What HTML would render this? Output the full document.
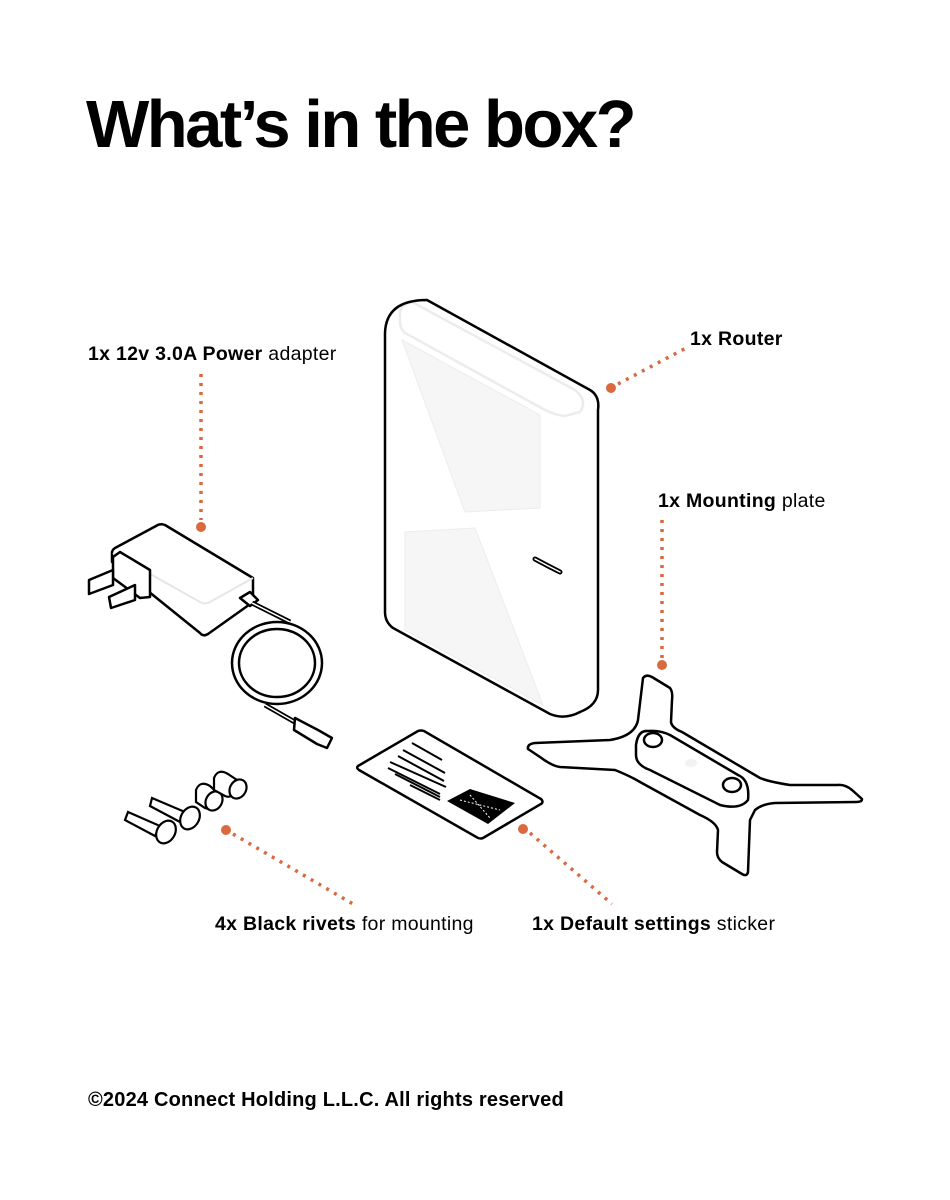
<!DOCTYPE html>
<html><head><meta charset="utf-8"><style>
html,body{margin:0;padding:0;background:#fff;}
svg{display:block}
text{font-family:"Liberation Sans",sans-serif;fill:#000}
</style></head><body>
<svg width="950" height="1200" viewBox="0 0 950 1200" xmlns="http://www.w3.org/2000/svg">
<text x="86" y="147" font-size="67" font-weight="bold" letter-spacing="-2.5">What’s in the box?</text>

<!-- labels -->
<g font-size="19.5" letter-spacing="0.3">
<text x="88" y="360"><tspan font-weight="bold">1x 12v 3.0A Power</tspan> adapter</text>
<text x="690" y="345" font-weight="bold">1x Router</text>
<text x="658" y="507"><tspan font-weight="bold">1x Mounting</tspan> plate</text>
<text x="215" y="930"><tspan font-weight="bold">4x Black rivets</tspan> for mounting</text>
<text x="532" y="930"><tspan font-weight="bold">1x Default settings</tspan> sticker</text>
</g>
<text x="88" y="1106" font-size="20" font-weight="bold" letter-spacing="0.2">©2024 Connect Holding L.L.C. All rights reserved</text>

<!-- orange leaders -->
<g stroke="#d9693f" stroke-width="3.5" stroke-dasharray="3 6" fill="none">
<line x1="201" y1="374" x2="201" y2="520"/>
<line x1="618" y1="384" x2="686" y2="348"/>
<line x1="662" y1="520" x2="662" y2="658"/>
<line x1="233" y1="834" x2="353" y2="904"/>
<line x1="530" y1="833" x2="612" y2="904"/>
</g>
<g fill="#d9693f">
<circle cx="201" cy="527" r="5"/><circle cx="611" cy="388" r="5"/>
<circle cx="662" cy="665" r="5"/><circle cx="226" cy="830" r="5"/><circle cx="523" cy="829" r="5"/>
</g>

<!-- router -->
<g fill="none" stroke="#ececec" stroke-width="1.5">
<path d="M400 318 Q398 305 412 302 L575 390 Q588 400 580 412 L565 416 Q555 415 545 410 L405 333 Q399 328 400 318Z" stroke-width="2.5"/>
</g>
<g stroke="#ececec" stroke-width="1">
<path d="M402 340 L540 415 L540 508 L465 512Z M405 532 L475 528 L543 705 L405 630Z" fill="#f6f6f6"/>
</g>
<path d="M385 333 Q386 300 427 300 L590 390 Q600 396 598 410 L598 690 Q598 705 580 712 Q565 720 550 714 L393 628 Q385 622 385 612 Z" fill="none" stroke="#000" stroke-width="2.5"/>
<path d="M535 559 Q548 566 560 572" stroke="#000" stroke-width="5" stroke-linecap="round" fill="none"/>
<path d="M535 559 Q548 566 560 572" stroke="#fff" stroke-width="1.5" stroke-linecap="round" fill="none"/>

<!-- power adapter -->
<g fill="#fff" stroke="#000" stroke-width="2.5" stroke-linejoin="round">
<path d="M112 553 L112 562 L200 633 Q203 637 208 634 L253 602 L253 578 L165 525 Q160 523 156 526 L115 548 Q112 550 112 553Z"/>
<path d="M113 553 L200 602 Q205 605 210 602 L253 578" fill="none" stroke="#e6e6e6" stroke-width="2"/>
<path d="M113 557 L120 552 L150 570 L150 597 L140 598 L113 578Z"/>
<path d="M89 580 L113 570 L113 585 L89 594Z"/>
<path d="M109 597 L135 585 L135 600 L111 608Z"/>
<path d="M240 598 L250 592 L258 600 L250 606 Z"/>
<path d="M252 603 L290 622" stroke-width="5"/>
<path d="M252 603 L290 622" stroke="#fff" stroke-width="1.5"/>
<ellipse cx="277" cy="663" rx="45" ry="41" fill="none" stroke-width="2.5"/>
<ellipse cx="277" cy="663" rx="38" ry="34" fill="none" stroke-width="2.5"/>
<path d="M265 705 L300 725" fill="none" stroke-width="5"/>
<path d="M265 705 L300 725" fill="none" stroke="#fff" stroke-width="1.5"/>
<path d="M295 718 L318 730 L332 738 L327 748 L317 744 L294 730Z"/>
</g>

<!-- rivets -->
<g fill="#fff" stroke="#000" stroke-width="2.2">
<path d="M128 812 L160 826 L155 836 L125 820Z"/>
<ellipse cx="166" cy="832" rx="9" ry="12" transform="rotate(30 166 832)"/>
<path d="M152 798 L185 812 L180 822 L150 806Z"/>
<ellipse cx="190" cy="818" rx="9" ry="12" transform="rotate(30 190 818)"/>
<path d="M196 790 Q200 780 210 786 L220 795 Q214 812 205 808 L196 802Z"/>
<ellipse cx="214" cy="801" rx="8" ry="10" transform="rotate(30 214 801)"/>
<path d="M214 778 Q218 768 228 774 L240 782 Q234 800 225 796 L214 790Z"/>
<ellipse cx="238" cy="789" rx="8" ry="10" transform="rotate(30 238 789)"/>
</g>

<!-- sticker -->
<path d="M358 766 L418 731 Q421 730 424 731 L541 799 Q544 802 541 804 L483 838 Q481 839 478 838 L359 770 Q356 768 358 766Z" fill="#fff" stroke="#000" stroke-width="2.5"/>
<g stroke="#000" stroke-width="2">
<line x1="412" y1="743" x2="442" y2="760"/>
<line x1="403" y1="750" x2="445" y2="773"/>
<line x1="398" y1="756" x2="444" y2="781"/>
<line x1="390" y1="762" x2="446" y2="787"/>
<line x1="388" y1="768" x2="440" y2="794"/>
<line x1="395" y1="774" x2="440" y2="797"/>
<line x1="410" y1="785" x2="440" y2="800"/>
</g>
<path d="M447 801 L470 789 L515 803 L488 824Z" fill="#000"/>
<g stroke="#fff" stroke-width="1" stroke-dasharray="2 2"><line x1="460" y1="800" x2="500" y2="810"/><line x1="470" y1="795" x2="490" y2="818"/></g>

<!-- plate -->
<path d="M643 678 Q646 674 652 677 L670 688 Q673 692 672 700 L671 722 Q672 728 682 732 L760 778 Q770 782 790 785 L837 785 Q845 784 852 790 L862 799 Q862 802 856 802 L775 803 Q762 804 755 810 L750 820 L748 872 Q747 877 742 874 L722 862 Q717 858 717 852 L718 830 Q716 822 700 815 L640 782 Q630 776 615 770 L560 767 Q552 766 540 757 L528 749 Q527 744 535 743 L610 740 Q635 736 638 720 Z" fill="#fff" stroke="#000" stroke-width="2.5" stroke-linejoin="round"/>
<path d="M648 731 Q638 730 636 745 L636 755 Q636 765 650 770 L720 805 Q740 810 748 800 Q750 780 738 775 L670 735 Q660 730 648 731Z" fill="#fff" stroke="#000" stroke-width="2.5"/>
<ellipse cx="653" cy="740" rx="9" ry="7" fill="#fff" stroke="#000" stroke-width="2.5"/>
<ellipse cx="732" cy="785" rx="9" ry="7" fill="#fff" stroke="#000" stroke-width="2.5"/>
<ellipse cx="691" cy="763" rx="6" ry="4" fill="#f2f2f2"/>
</svg>
</body></html>
